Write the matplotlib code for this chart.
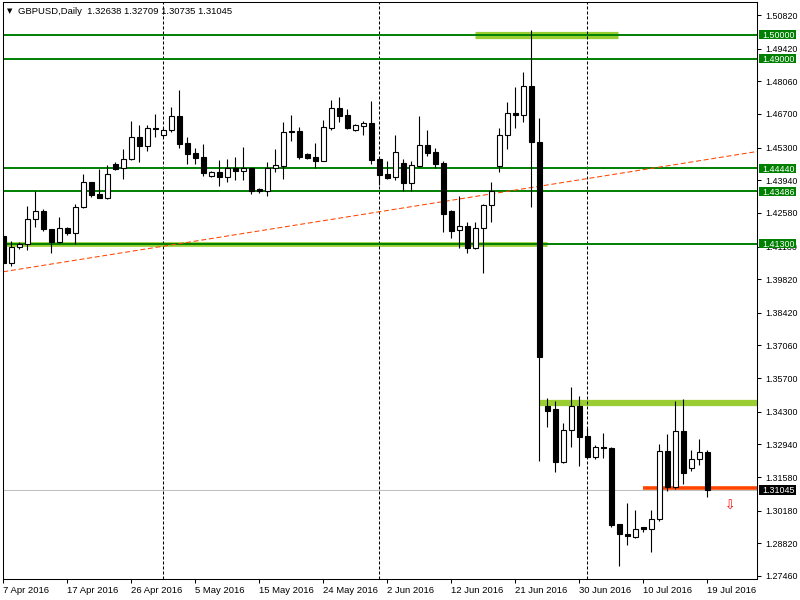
import matplotlib
matplotlib.use("Agg")
import matplotlib.pyplot as plt
import matplotlib.transforms as mtransforms
from matplotlib.patches import Rectangle
import pandas as pd

# ---------------- data ----------------
start_date = "2016-04-07"
end_date = "2016-07-19"

opens = [1.4160, 1.4049, 1.4115, 1.4130, 1.4232, 1.4265, 1.4190, 1.4138, 1.4194, 1.4176,
         1.4281, 1.4385, 1.4337, 1.4321, 1.4462, 1.4444, 1.4484, 1.4573, 1.4538, 1.4612,
         1.4584, 1.4602, 1.4660, 1.4548, 1.4506, 1.4490, 1.4412, 1.4428, 1.4409, 1.4446,
         1.4434, 1.4444, 1.4356, 1.4350, 1.4444, 1.4455, 1.4597, 1.4599, 1.4503, 1.4491,
         1.4475, 1.4610, 1.4694, 1.4664, 1.4604, 1.4621, 1.4632, 1.4482, 1.4421, 1.4406,
         1.4465, 1.4384, 1.4455, 1.4540, 1.4510, 1.4465, 1.4266, 1.4186, 1.4202, 1.4113,
         1.4194, 1.4290, 1.4452, 1.4581, 1.4673, 1.4664, 1.4786, 1.4552, 1.3454, 1.3440,
         1.3222, 1.3353, 1.3454, 1.3329, 1.3243, 1.3282, 1.3278, 1.2961, 1.2920, 1.2910,
         1.2950, 1.2941, 1.2983, 1.3268, 1.3118, 1.3351, 1.3195, 1.3232, 1.32638]
highs = [1.4170, 1.4141, 1.4136, 1.4287, 1.4348, 1.4273, 1.4192, 1.4240, 1.4201, 1.4295,
         1.4420, 1.4386, 1.4440, 1.4457, 1.4469, 1.4523, 1.4641, 1.4624, 1.4624, 1.4669,
         1.4613, 1.4699, 1.4770, 1.4575, 1.4527, 1.4545, 1.4434, 1.4478, 1.4482, 1.4492,
         1.4534, 1.4445, 1.4363, 1.4469, 1.4524, 1.4637, 1.4666, 1.4616, 1.4506, 1.4548,
         1.4645, 1.4728, 1.4741, 1.4691, 1.4627, 1.4639, 1.4725, 1.4483, 1.4474, 1.4582,
         1.4481, 1.4473, 1.4662, 1.4603, 1.4529, 1.4474, 1.4270, 1.4328, 1.4221, 1.4221,
         1.4295, 1.4387, 1.4612, 1.4720, 1.4781, 1.4845, 1.5020, 1.4652, 1.3487, 1.3475,
         1.3382, 1.3534, 1.3496, 1.3361, 1.3292, 1.3340, 1.3282, 1.2962, 1.3051, 1.3021,
         1.2951, 1.3021, 1.3296, 1.3337, 1.3475, 1.3484, 1.3271, 1.3315, 1.32709]
lows = [1.4046, 1.4038, 1.4107, 1.4104, 1.4198, 1.4184, 1.4090, 1.4134, 1.4168, 1.4128,
        1.4279, 1.4326, 1.4320, 1.4316, 1.4437, 1.4399, 1.4480, 1.4471, 1.4517, 1.4575,
        1.4575, 1.4595, 1.4527, 1.4460, 1.4460, 1.4413, 1.4409, 1.4371, 1.4388, 1.4395,
        1.4395, 1.4337, 1.4342, 1.4330, 1.4430, 1.4399, 1.4559, 1.4484, 1.4484, 1.4444,
        1.4474, 1.4602, 1.4637, 1.4606, 1.4599, 1.4582, 1.4462, 1.4374, 1.4399, 1.4396,
        1.4350, 1.4350, 1.4449, 1.4495, 1.4444, 1.4180, 1.4155, 1.4113, 1.4090, 1.4106,
        1.4009, 1.4221, 1.4430, 1.4525, 1.4613, 1.4638, 1.4284, 1.3225, 1.3365, 1.3180,
        1.3218, 1.3285, 1.3205, 1.3242, 1.3235, 1.3239, 1.2949, 1.2789, 1.2875, 1.2903,
        1.2931, 1.2847, 1.2976, 1.3101, 1.3107, 1.3129, 1.3185, 1.3208, 1.30735]
closes = [1.4050, 1.4116, 1.4130, 1.4232, 1.4265, 1.4190, 1.4138, 1.4194, 1.4176, 1.4281,
          1.4385, 1.4334, 1.4321, 1.4420, 1.4441, 1.4484, 1.4573, 1.4538, 1.4610, 1.4609,
          1.4602, 1.4660, 1.4545, 1.4503, 1.4488, 1.4423, 1.4428, 1.4409, 1.4446, 1.4434,
          1.4446, 1.4350, 1.4350, 1.4444, 1.4457, 1.4594, 1.4593, 1.4492, 1.4488, 1.4475,
          1.4614, 1.4694, 1.4663, 1.4613, 1.4623, 1.4632, 1.4478, 1.4417, 1.4405, 1.4510,
          1.4384, 1.4456, 1.4540, 1.4509, 1.4463, 1.4252, 1.4184, 1.4202, 1.4113, 1.4194,
          1.4290, 1.4348, 1.4581, 1.4673, 1.4664, 1.4785, 1.4555, 1.3659, 1.3434, 1.3222,
          1.3353, 1.3454, 1.3326, 1.3243, 1.3282, 1.3277, 1.2960, 1.2920, 1.2913, 1.2941,
          1.2941, 1.2983, 1.3268, 1.3115, 1.3351, 1.3174, 1.3232, 1.3264, 1.31045]

price_ticks = [1.50820, 1.49420, 1.48060, 1.46700, 1.45300, 1.43940, 1.42580, 1.41180,
               1.39820, 1.38420, 1.37060, 1.35700, 1.34300, 1.32940, 1.31580, 1.30180,
               1.28820, 1.27460]
green_levels = [1.50000, 1.49000, 1.44440, 1.43486, 1.41300]
bid_price = 1.31045
header = "GBPUSD,Daily  1.32638 1.32709 1.30735 1.31045"

# highlighted zones: (price, first bar, last bar)
zone_1500 = (1.50000, 59.0, 76.8)
zone_1413 = (1.41300, -1.0, 68.0)
zone_1347 = (1.34664, 67.0, 94.5)
red_level = (1.31110, 80.0, 94.5)
trend_pts = ([0.0, 94.5], [1.4013, 1.4515])
arrow_pos = (90.8, 1.3035)

# ---------------- figure ----------------
FONT = ["Liberation Sans", "DejaVu Sans"]
FS = 6.4
plt.rcParams["font.family"] = FONT
fig = plt.figure(figsize=(8, 6), dpi=100)
AX_W_PX = 754.6
AX_H_PX = 576.7
ax = fig.add_axes([2.7 / 800, 1 - 579 / 600, AX_W_PX / 800, AX_H_PX / 600])

dates = [d for d in pd.date_range(start_date, end_date) if d.dayofweek != 5]
n = len(dates)
xs = list(range(n))

GREEN = "#008000"
LIGHT = "#9ACD32"
RED = "#FF4500"

# zones / levels
ax.hlines(zone_1500[0], zone_1500[1], zone_1500[2], color=LIGHT, lw=5.2, zorder=1)
ax.hlines(zone_1413[0], zone_1413[1], zone_1413[2], color=LIGHT, lw=3.4, zorder=1)
ax.hlines(zone_1347[0], zone_1347[1], zone_1347[2], color=LIGHT, lw=4.5, zorder=1)
for lv in green_levels:
    ax.axhline(lv, color=GREEN, lw=1.4, zorder=2)
ax.hlines(red_level[0], red_level[1], red_level[2], color=RED, lw=2.6, zorder=2)
ax.axhline(bid_price, color="#C0C0C0", lw=0.75, zorder=1)
ax.plot(trend_pts[0], trend_pts[1], color=RED, lw=0.75, linestyle=(0, (4.8, 2.6)), zorder=2)

# month separators
for i in range(1, n):
    if dates[i].month != dates[i - 1].month:
        ax.axvline(i, color="black", lw=0.75, linestyle=(0, (2.9, 1.9)), zorder=1)

# candles
ax.vlines(xs, lows, highs, color="black", lw=0.8, zorder=3)
for i in xs:
    o, c = opens[i], closes[i]
    bull = c >= o
    ax.bar(i, abs(c - o), bottom=min(o, c), width=0.56,
           color="white" if bull else "black", edgecolor="black", linewidth=0.8, zorder=4)

# sell arrow
ax.text(arrow_pos[0], arrow_pos[1], "\u21e9", color="red", fontsize=9,
        ha="center", va="center", family=["DejaVu Sans"], zorder=5)

# axes limits
ymin, ymax = 1.27335, 1.51349
ax.set_xlim(-0.075, 94.25)
ax.set_ylim(ymin, ymax)

# y axis on right
ax.yaxis.tick_right()
ax.set_yticks(price_ticks)
ax.set_yticklabels([f"{p:.5f}" for p in price_ticks])
ax.tick_params(axis="y", direction="out", length=3, width=0.75, pad=3, labelsize=FS,
               colors="black")

# x ticks
tick_idx = list(range(0, n, 8))
ax.set_xticks(tick_idx)
ax.set_xticklabels([f"{dates[i].day} {dates[i].strftime('%b')} {dates[i].year}" for i in tick_idx],
                   ha="left")
ax.tick_params(axis="x", direction="out", length=3, width=0.75, pad=2, labelsize=6.8)

for s in ax.spines.values():
    s.set_linewidth(0.75)
    s.set_color("black")

# level boxes on right axis
trans = mtransforms.blended_transform_factory(ax.transAxes, ax.transData)
ppp = (ymax - ymin) / AX_H_PX
box_x0 = 1.0 + 1.7 / AX_W_PX
box_w = 37.0 / AX_W_PX
text_x = 1.0 + 5.0 / AX_W_PX


def level_box(val, fc, h_px):
    ax.add_patch(Rectangle((box_x0, val - h_px / 2 * ppp), box_w, h_px * ppp,
                           transform=trans, facecolor=fc, edgecolor="none",
                           clip_on=False, zorder=9))
    ax.text(text_x, val, f"{val:.5f}", transform=trans, ha="left", va="center_baseline",
            fontsize=FS, color="white", clip_on=False, zorder=10)


for lv in green_levels:
    level_box(lv, GREEN, 9.0)
level_box(bid_price, "black", 9.5)

# header
fig.text(7 / 800, 1 - 11 / 600, "\u25bc", fontsize=5, va="center", ha="left",
         family=["DejaVu Sans"])
fig.text(18 / 800, 1 - 11 / 600, header, fontsize=6.8, va="center", ha="left")

fig.savefig("out.png", dpi=100, facecolor="white")
